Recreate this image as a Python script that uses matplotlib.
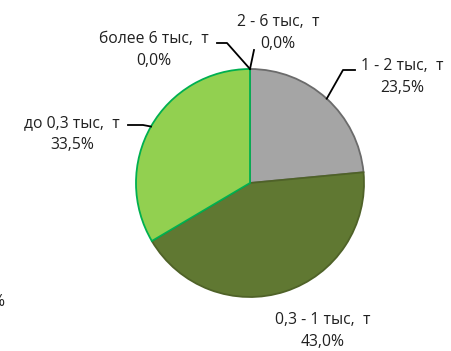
import numpy as np
import matplotlib.pyplot as plt
from matplotlib.lines import Line2D

plt.rcParams['font.family'] = ['Open Sans', 'DejaVu Sans']

# data (clockwise from 12 o'clock)
labels = ["1 - 2 тыс.  т", "0,3 - 1 тыс.  т", "до 0,3 тыс.  т", "более 6 тыс.  т", "2 - 6 тыс.  т"]
shares = [23.5, 43.0, 33.5, 0.0, 0.0]
colors = ["#a5a5a5", "#607832", "#92d050", "#4f81bd", "#c0504d"]
edges = ["#6b6b6b", "#4f6228", "#00b050", "#385d8a", "#8c3836"]

W, H = 451, 351
cx, cy, r = 250, 183, 114   # pie centre / radius in pixels (from top)

fig = plt.figure(figsize=(W / 100, H / 100), dpi=100)
ax = fig.add_axes([(cx - r) / W, 1 - (cy + r) / H, 2 * r / W, 2 * r / H])
wedges, _ = ax.pie(shares, colors=colors, startangle=90, counterclock=False,
                   radius=1, wedgeprops=dict(linewidth=1.3))
for w, ec, v in zip(wedges, edges, shares):
    w.set_edgecolor(ec)
    if v == 0:
        w.set_linewidth(0)
ax.set_xlim(-1.0, 1.0)
ax.set_ylim(-1.0, 1.0)
ax.set_aspect('equal')
ax.axis('off')


def px(x, y):
    return x / W, 1 - y / H


def anchor(i):
    # edge point at slice mid-angle, in figure fraction
    start = 90 - sum(shares[:i]) * 3.6
    mid = np.deg2rad(start - shares[i] * 1.8)
    p = ax.transData.transform((np.cos(mid), np.sin(mid)))
    return fig.transFigure.inverted().transform(p)


# label layout: text centre, leader elbow points (pixels)
layout = {
    0: ((402, 77), [(343, 70), (355, 70)]),
    1: ((323, 331), None),
    2: ((72, 134), [(143, 125), (128, 125)]),
    3: ((154, 50), [(227, 43), (217, 43)]),
    4: ((278, 33), [(254, 50)]),
}

for i, (lab, val) in enumerate(zip(labels, shares)):
    (tx, ty), pts = layout[i]
    txt = f"{lab}\n{val:.1f}%".replace(".", ",")
    fig.text(*px(tx, ty), txt, ha='center', va='center', fontsize=11.3,
             linespacing=1.5, color='#202020')
    if pts:
        a = anchor(i)
        xs = [a[0]] + [px(*p)[0] for p in pts]
        ys = [a[1]] + [px(*p)[1] for p in pts]
        fig.add_artist(Line2D(xs, ys, transform=fig.transFigure, color='black', lw=1.3))

# clipped label fragment at left edge
fig.text(*px(4, 302), "%", ha='right', va='center', fontsize=11.3, color='#202020')

fig.savefig("out.png", dpi=100)
